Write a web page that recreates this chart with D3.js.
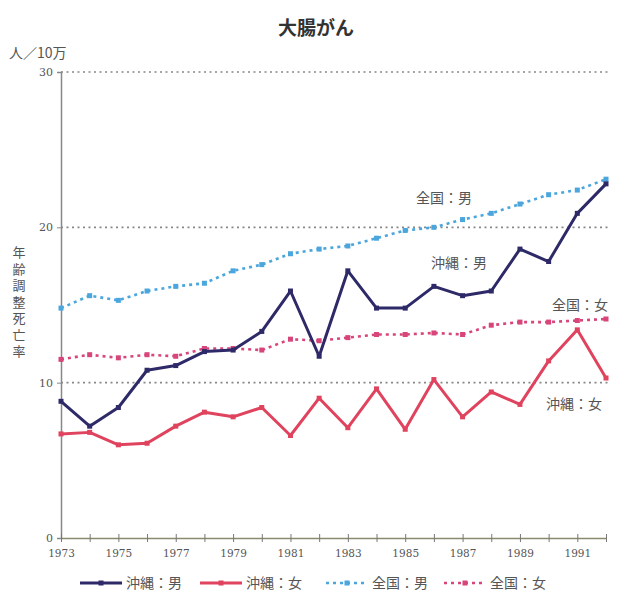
<!DOCTYPE html>
<html>
<head>
<meta charset="utf-8">
<script src="https://cdn.jsdelivr.net/npm/d3@7"></script>
<style>
  body { margin: 0; background: #fff; }
  text { font-family: "Noto Sans CJK JP", "Noto Sans", sans-serif; }
</style>
</head>
<body>
<div id="chart"></div>
<script>
// years and series (rate per 100,000)
var years = d3.range(1973, 1993);
var tickYears = [1973, 1975, 1977, 1979, 1981, 1983, 1985, 1987, 1989, 1991];
var yTicks = [0, 10, 20, 30];

var okinawaMale   = [8.8, 7.2, 8.4, 10.8, 11.1, 12.0, 12.1, 13.3, 15.9, 11.7, 17.2, 14.8, 14.8, 16.2, 15.6, 15.9, 18.6, 17.8, 20.9, 22.8];
var okinawaFemale = [6.7, 6.8, 6.0, 6.1, 7.2, 8.1, 7.8, 8.4, 6.6, 9.0, 7.1, 9.6, 7.0, 10.2, 7.8, 9.4, 8.6, 11.4, 13.4, 10.3];
var nationMale    = [14.8, 15.6, 15.3, 15.9, 16.2, 16.4, 17.2, 17.6, 18.3, 18.6, 18.8, 19.3, 19.8, 20.0, 20.5, 20.9, 21.5, 22.1, 22.4, 23.1];
var nationFemale  = [11.5, 11.8, 11.6, 11.8, 11.7, 12.2, 12.2, 12.1, 12.8, 12.7, 12.9, 13.1, 13.1, 13.2, 13.1, 13.7, 13.9, 13.9, 14.0, 14.1];

var seriesNames = ["沖縄：男", "沖縄：女", "全国：男", "全国：女"];

var series = [
  {name: seriesNames[0], values: okinawaMale,   color: "#2e2a68", dash: null,  width: 3},
  {name: seriesNames[1], values: okinawaFemale, color: "#e0435e", dash: null,  width: 3},
  {name: seriesNames[2], values: nationMale,    color: "#4aa6dc", dash: "3,4", width: 2.6},
  {name: seriesNames[3], values: nationFemale,  color: "#d8457a", dash: "3,4", width: 2.6}
];

var W = 628, H = 613;
var svg = d3.select("#chart").append("svg")
    .attr("width", W)
    .attr("height", H);

var x = d3.scaleLinear().domain([1973, 1992]).range([61, 606]);
var y = d3.scaleLinear().domain([0, 30]).range([538, 72]);

// title
svg.append("text")
    .attr("x", 316).attr("y", 35)
    .attr("text-anchor", "middle")
    .attr("font-size", 19).attr("font-weight", "bold")
    .attr("fill", "#333")
    .text("大腸がん");

// unit
svg.append("text")
    .attr("x", 9).attr("y", 58)
    .attr("font-size", 14).attr("fill", "#555")
    .text("人／10万");

// y label, vertical writing
svg.append("text")
    .attr("x", 19).attr("y", 246)
    .attr("font-size", 13).attr("fill", "#555")
    .style("writing-mode", "vertical-rl")
    .style("letter-spacing", "3.5px")
    .text("年齢調整死亡率");

// dotted grid lines
svg.append("g").selectAll("line")
    .data(yTicks.filter(function(d) { return d > 0; }))
    .enter().append("line")
    .attr("x1", x(1973)).attr("x2", x(1992) + 2)
    .attr("y1", function(d) { return y(d); })
    .attr("y2", function(d) { return y(d); })
    .attr("stroke", "#888").attr("stroke-width", 1.6)
    .attr("stroke-dasharray", "2,3.5");

// y axis
var yAxis = svg.append("g")
    .attr("transform", "translate(" + x(1973) + ",0)")
    .call(d3.axisLeft(y).tickValues(yTicks).tickSize(4).tickPadding(4));
yAxis.select(".domain").attr("stroke", "#888").attr("stroke-width", 1.5);
yAxis.selectAll(".tick line").attr("stroke", "#888");
yAxis.selectAll("text").attr("font-size", 11).attr("fill", "#555")
    .style("font-family", "'DejaVu Serif', serif");

// x axis
var xAxis = svg.append("g")
    .attr("transform", "translate(0," + y(0) + ")")
    .call(d3.axisBottom(x).tickValues(years).tickSize(4).tickSizeOuter(0)
        .tickFormat(function(d) { return tickYears.indexOf(d) >= 0 ? d : ""; }));
xAxis.select(".domain").attr("stroke", "#8a8a70").attr("stroke-width", 1.5);
xAxis.selectAll(".tick line").attr("stroke", "#777").attr("y1", -4);
xAxis.selectAll("text").attr("font-size", 10.5).attr("fill", "#555")
    .attr("dy", "1.1em")
    .style("font-family", "'DejaVu Serif', serif");

// lines
var line = d3.line()
    .x(function(d, i) { return x(years[i]); })
    .y(function(d) { return y(d); });

// draw dotted national lines first, then Okinawa on top
[2, 3, 1, 0].forEach(function(k) {
    var s = series[k];
    svg.append("path")
        .datum(s.values)
        .attr("fill", "none")
        .attr("stroke", s.color)
        .attr("stroke-width", s.width)
        .attr("stroke-dasharray", s.dash)
        .attr("stroke-linejoin", "round")
        .attr("d", line);
    svg.append("g").selectAll("rect")
        .data(s.values)
        .enter().append("rect")
        .attr("x", function(d, i) { return x(years[i]) - 2.5; })
        .attr("y", function(d) { return y(d) - 2.5; })
        .attr("width", 5).attr("height", 5)
        .attr("fill", s.color);
});

// in-chart labels
var notes = [
    {t: seriesNames[2], x: 416, y: 203},
    {t: seriesNames[0], x: 431, y: 268},
    {t: seriesNames[3], x: 552, y: 310},
    {t: seriesNames[1], x: 546, y: 409}
];
svg.append("g").selectAll("text")
    .data(notes)
    .enter().append("text")
    .attr("x", function(d) { return d.x; })
    .attr("y", function(d) { return d.y; })
    .attr("font-size", 14).attr("fill", "#555")
    .text(function(d) { return d.t; });

// legend
var legendX = [80, 200, 326, 444];
var lg = svg.append("g").selectAll("g")
    .data(series)
    .enter().append("g")
    .attr("transform", function(d, i) { return "translate(" + legendX[i] + ",583)"; });
lg.append("line")
    .attr("x1", 0).attr("x2", 42)
    .attr("stroke", function(d) { return d.color; })
    .attr("stroke-width", function(d) { return d.dash ? 2.4 : 3; })
    .attr("stroke-dasharray", function(d) { return d.dash; });
lg.append("rect")
    .attr("x", 18.5).attr("y", -2.5).attr("width", 5).attr("height", 5)
    .attr("fill", function(d) { return d.color; });
lg.append("text")
    .attr("x", 46).attr("y", 5)
    .attr("font-size", 14).attr("fill", "#555")
    .text(function(d) { return d.name; });
</script>
</body>
</html>
